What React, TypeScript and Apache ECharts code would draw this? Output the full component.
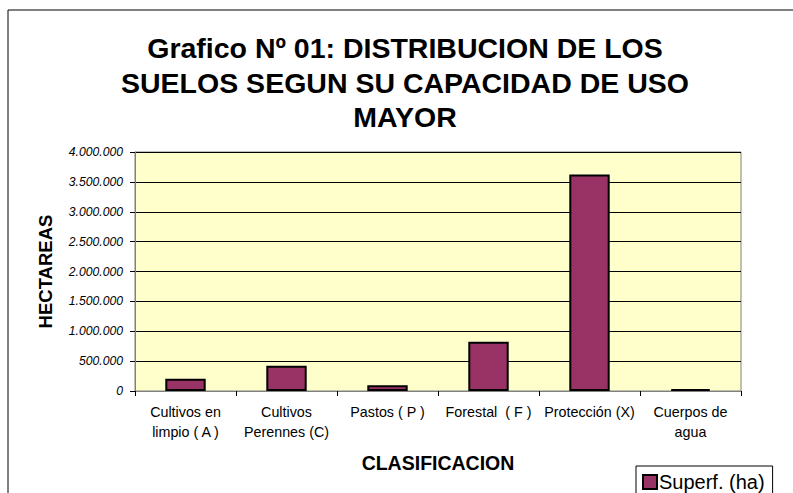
import React, { useEffect, useRef } from "react";
import * as echarts from "echarts";

const categories = [
  "Cultivos en\nlimpio ( A )",
  "Cultivos\nPerennes (C)",
  "Pastos ( P )",
  "Forestal  ( F )",
  "Protección (X)",
  "Cuerpos de\nagua",
];
const superficie = [206000, 423000, 95000, 825000, 3625000, 30000];
const seriesName = "Superf. (ha)";
const titleLines = [
  "Grafico Nº 01: DISTRIBUCION DE LOS",
  "SUELOS SEGUN SU CAPACIDAD DE USO",
  "MAYOR",
];
const yAxisName = "HECTAREAS";
const xAxisName = "CLASIFICACION";

const fmt = (v: number) =>
  String(Math.round(v)).replace(/\B(?=(\d{3})+(?!\d))/g, ".");

export default function App() {
  const ref = useRef<HTMLDivElement>(null);
  useEffect(() => {
    if (!ref.current) return;
    const chart = echarts.init(ref.current, undefined, { renderer: "svg" });
    const font = "'Liberation Sans', Arial, sans-serif";
    chart.setOption({
      animation: false,
      backgroundColor: "#ffffff",
      textStyle: { fontFamily: font },
      graphic: [
        {
          type: "rect",
          shape: { x: 8, y: 10, width: 900, height: 600 },
          style: { fill: "none", stroke: "#000", lineWidth: 1 },
          silent: true,
          z: -10,
        },
        ...titleLines.map((t, i) => ({
          type: "text",
          x: 405,
          y: 48 + i * 34.5,
          style: {
            text: t,
            fill: "#000",
            font: `bold 28.5px ${font}`,
            textAlign: "center",
            textVerticalAlign: "middle",
          },
        })),
      ],
      legend: {
        data: [seriesName],
        left: 636,
        top: 466,
        orient: "horizontal",
        padding: [6, 8, 8, 6],
        borderColor: "#000",
        borderWidth: 1,
        backgroundColor: "#fff",
        itemWidth: 14,
        itemHeight: 14,
        itemGap: 4,
        icon: "rect",
        textStyle: {
          fontSize: 20,
          lineHeight: 19,
          color: "#000",
          fontFamily: font,
          padding: [0, 0, 0, -3],
        },
      },
      grid: {
        left: 135,
        right: 52,
        top: 152,
        bottom: 102,
        containLabel: false,
        show: true,
        backgroundColor: "#FFFFCC",
        borderColor: "#808080",
        borderWidth: 1,
      },
      xAxis: {
        type: "category",
        data: categories,
        name: xAxisName,
        nameLocation: "middle",
        nameGap: 62,
        nameTextStyle: { fontSize: 19.5, fontWeight: "bold", color: "#000", fontFamily: font },
        axisLine: { show: true, lineStyle: { color: "#808080", width: 1 } },
        axisTick: { show: true, length: 5, alignWithLabel: false, lineStyle: { color: "#000" } },
        axisLabel: {
          fontSize: 14.3,
          color: "#000",
          margin: 11,
          lineHeight: 20,
          interval: 0,
          fontFamily: font,
        },
      },
      yAxis: {
        type: "value",
        min: 0,
        max: 4000000,
        interval: 500000,
        name: yAxisName,
        nameLocation: "middle",
        nameGap: 80,
        nameRotate: 90,
        nameTextStyle: { fontSize: 18.5, fontWeight: "bold", color: "#000", fontFamily: font },
        axisLine: { show: true, lineStyle: { color: "#808080", width: 1 } },
        axisTick: { show: true, length: 5, lineStyle: { color: "#000" } },
        splitLine: { show: true, lineStyle: { color: "#000", width: 1 } },
        axisLabel: {
          fontSize: 12.2,
          fontStyle: "italic",
          color: "#000",
          margin: 12,
          fontFamily: font,
          formatter: (v: number) => fmt(v),
        },
      },
      series: [
        {
          name: seriesName,
          type: "bar",
          data: superficie,
          barWidth: "40%",
          itemStyle: { color: "#993366", borderColor: "#000", borderWidth: 2 },
        },
      ],
    });
    return () => chart.dispose();
  }, []);
  return (
    <div
      ref={ref}
      style={{ position: "fixed", left: 0, top: 0, width: 793, height: 493 }}
    />
  );
}
